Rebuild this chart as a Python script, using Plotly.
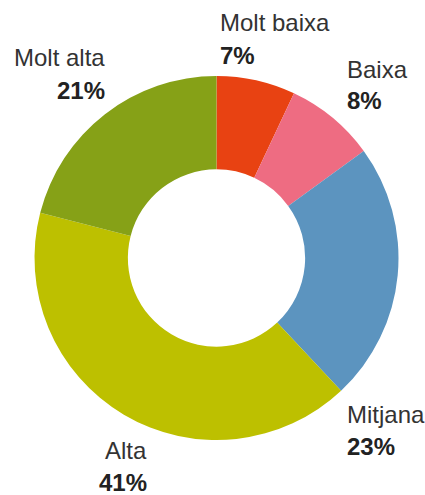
import plotly.graph_objects as go

categories = ["Molt baixa", "Baixa", "Mitjana", "Alta", "Molt alta"]
values = [7, 8, 23, 41, 21]
colors = ["#E84212", "#EE6C82", "#5C94BF", "#BDC000", "#86A117"]

W, H = 425, 495
cx, cy, R = 216.5, 258, 182

# label placement (pixels: x, name-line centre y, anchor)
label_pos = {
    "Molt baixa": (218, 23, "left"),
    "Baixa": (345, 69, "left"),
    "Mitjana": (345, 414, "left"),
    "Alta": (149, 450.5, "right"),
    "Molt alta": (107, 58, "right"),
}
line_gap = 32

fig = go.Figure(go.Pie(
    labels=categories, values=values, sort=False, direction="clockwise",
    rotation=0, hole=0.487, textinfo="none", hoverinfo="label+percent",
    marker=dict(colors=colors, line=dict(width=0)),
    domain=dict(x=[(cx - R) / W, (cx + R) / W],
                y=[(H - cy - R) / H, (H - cy + R) / H]),
    showlegend=False,
))

font = "Liberation Sans, Arial, Helvetica, sans-serif"
anns = []
for cat, val in zip(categories, values):
    x, y, anchor = label_pos[cat]
    anns.append(dict(x=x / W, y=1 - y / H, xref="paper", yref="paper",
                     text=cat, showarrow=False, xanchor=anchor, yanchor="middle",
                     font=dict(family=font, size=24, color="#333333")))
    anns.append(dict(x=x / W, y=1 - (y + line_gap) / H, xref="paper", yref="paper",
                     text=f"<b>{val}%</b>", showarrow=False, xanchor=anchor,
                     yanchor="middle",
                     font=dict(family=font, size=24, color="#222222")))

fig.update_layout(width=W, height=H, margin=dict(l=0, r=0, t=0, b=0),
                  paper_bgcolor="white", plot_bgcolor="white", annotations=anns)
fig.write_html("out.html", config={"displayModeBar": False},
               post_script="document.body.style.margin='0';document.body.style.overflow='hidden';")
